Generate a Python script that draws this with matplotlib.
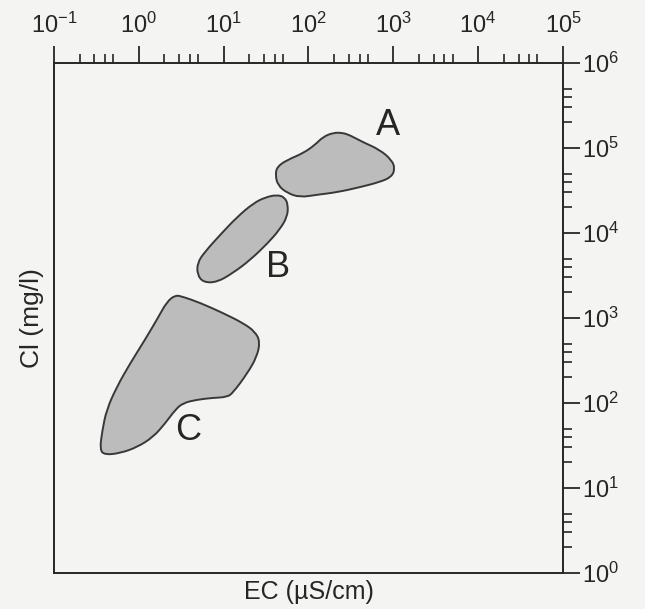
import numpy as np
import matplotlib
matplotlib.use('Agg')
import matplotlib.pyplot as plt
from matplotlib.path import Path
from matplotlib.patches import PathPatch
from matplotlib.ticker import LogLocator, NullFormatter

plt.rcParams['font.family'] = ['Liberation Sans', 'DejaVu Sans']
plt.rcParams['mathtext.fontset'] = 'custom'
plt.rcParams['mathtext.rm'] = 'Liberation Sans'
plt.rcParams['mathtext.it'] = 'Liberation Sans'

# outlines of the three fields as log10 values
# (log10 EC in uS/cm, log10 Cl in mg/l)
a_log_ec = [2.29, 2.17, 2.08, 1.94, 1.75, 1.63, 1.61, 1.64, 1.75, 1.90, 2.10,
            2.34, 2.61, 2.84, 2.98, 3.02, 2.98, 2.84, 2.64, 2.49, 2.40]
a_log_cl = [5.18, 5.13, 5.04, 4.94, 4.86, 4.78, 4.68, 4.56, 4.47, 4.42, 4.45,
            4.48, 4.54, 4.60, 4.66, 4.76, 4.86, 4.98, 5.07, 5.15, 5.18]

b_log_ec = [1.63, 1.72, 1.76, 1.75, 1.66, 1.52, 1.31, 1.11, 0.92, 0.76, 0.69,
            0.69, 0.78, 0.96, 1.16, 1.35, 1.49]
b_log_cl = [4.45, 4.42, 4.33, 4.19, 4.04, 3.88, 3.68, 3.53, 3.42, 3.42, 3.51,
            3.65, 3.78, 3.98, 4.19, 4.35, 4.42]

c_log_ec = [0.43, 0.52, 0.72, 0.99, 1.23, 1.37, 1.43, 1.39, 1.28, 1.11, 1.04,
            0.87, 0.69, 0.52, 0.43, 0.31, 0.17, -0.02, -0.22, -0.40, -0.46,
            -0.43, -0.38, -0.26, -0.10, 0.07, 0.23, 0.33]
c_log_cl = [3.27, 3.25, 3.18, 3.06, 2.94, 2.84, 2.72, 2.54, 2.35, 2.12, 2.07,
            2.06, 2.04, 2.00, 1.92, 1.76, 1.60, 1.48, 1.41, 1.39, 1.45,
            1.68, 1.92, 2.19, 2.47, 2.74, 3.01, 3.19]

labels = ['A', 'B', 'C']
label_log_ec = [2.94, 1.64, 0.58]
label_log_cl = [5.27, 3.59, 1.68]

# decade ticks shown on the top and right axes
ec_decades = [-1, 0, 1, 2, 3, 4, 5]
cl_decades = [0, 1, 2, 3, 4, 5, 6]

PAGE = '#f4f4f2'
INK = '#262626'


def smooth_blob(xs, ys):
    # closed path of quadratic curves through the midpoints of the read points
    logp = np.column_stack([np.asarray(xs), np.asarray(ys)])
    pts = 10.0 ** logp
    mids = 10.0 ** ((logp + np.roll(logp, -1, axis=0)) / 2)
    verts, codes = [mids[-1]], [Path.MOVETO]
    for i in range(len(pts)):
        verts += [pts[i], mids[i]]
        codes += [Path.CURVE3, Path.CURVE3]
    verts.append(mids[-1]); codes.append(Path.CLOSEPOLY)
    return Path(verts, codes)


fig = plt.figure(figsize=(6.45, 6.09), dpi=100, facecolor=PAGE)
ax = fig.add_axes([0.0837, 0.0591, 0.7891, 0.8374])
ax.set_facecolor(PAGE)
ax.set_xscale('log')
ax.set_yscale('log')

for xs, ys in [(a_log_ec, a_log_cl), (b_log_ec, b_log_cl), (c_log_ec, c_log_cl)]:
    patch = PathPatch(smooth_blob(xs, ys), facecolor='#bcbcbc', edgecolor='#383838',
                      linewidth=1.4, zorder=2)
    ax.add_patch(patch)

for lab, lx, ly in zip(labels, label_log_ec, label_log_cl):
    ax.text(10 ** lx, 10 ** ly, lab, fontsize=26, color=INK, ha='center', va='center')

for sp in ax.spines.values():
    sp.set_linewidth(1.4)
    sp.set_color(INK)

ax.xaxis.set_ticks_position('top')
ax.yaxis.set_ticks_position('right')
ax.set_xticks([10.0 ** d for d in ec_decades], [r'$10^{%d}$' % d for d in ec_decades])
ax.set_yticks([10.0 ** d for d in cl_decades], [r'$10^{%d}$' % d for d in cl_decades])
for axis in (ax.xaxis, ax.yaxis):
    axis.set_minor_locator(LogLocator(base=10, subs=[2, 3, 4, 5], numticks=10))
    axis.set_minor_formatter(NullFormatter())
ax.set_xlim(10.0 ** ec_decades[0], 10.0 ** ec_decades[-1])
ax.set_ylim(10.0 ** cl_decades[0], 10.0 ** cl_decades[-1])

ax.tick_params(which='major', direction='out', length=12, width=1.3, color=INK,
               labelsize=17, labelcolor=INK)
ax.tick_params(which='minor', direction='out', length=6.5, width=1.2, color=INK)
ax.tick_params(axis='x', which='major', pad=6)
ax.tick_params(axis='y', which='major', pad=2)

ax.set_xlabel('EC (\u00b5S/cm)', fontsize=18, color=INK, labelpad=5)
ax.set_ylabel('Cl (mg/l)', fontsize=19, color=INK, labelpad=7)
ax.xaxis.set_label_position('bottom')
ax.yaxis.set_label_position('left')

fig.savefig('out.png', dpi=100, facecolor=PAGE)
